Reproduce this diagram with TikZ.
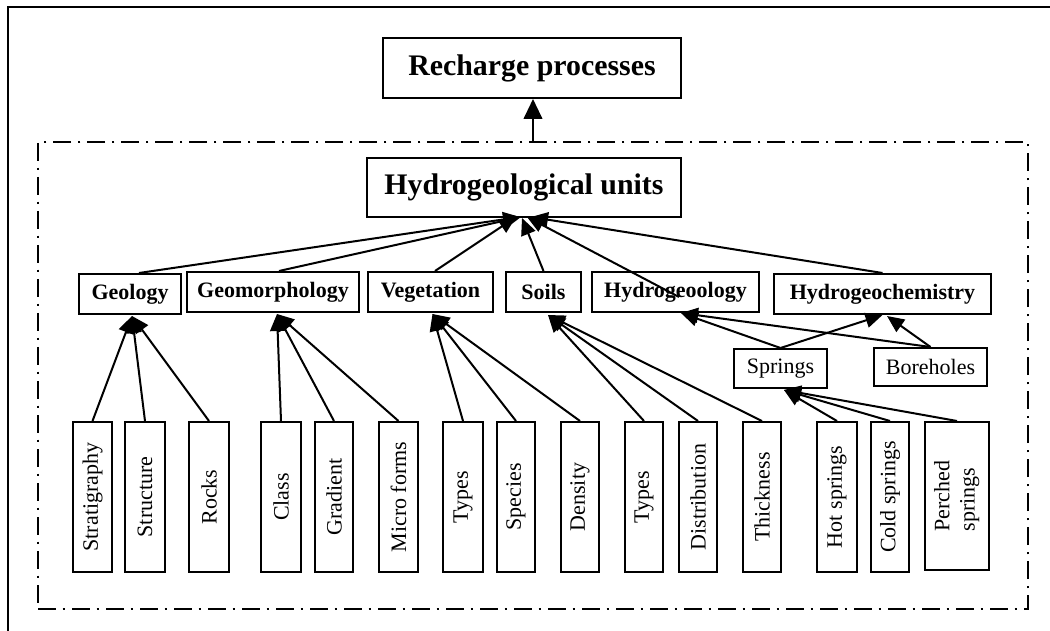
\documentclass[tikz,border=0pt]{standalone}
\usepackage{fontspec}
\setmainfont{Liberation Serif}
\usetikzlibrary{arrows.meta,calc}
\begin{document}
\begin{tikzpicture}[x=0.75pt,y=-0.75pt,
  sz/.style 2 args={minimum width=#1*0.75pt, minimum height=#2*0.75pt},
  box/.style={draw, line width=1.5pt, inner sep=0pt, font=\fontsize{16.5}{19}\selectfont\bfseries},
  bigbox/.style={box, font=\fontsize{22.4}{26}\selectfont\bfseries},
  subbox/.style={box, font=\fontsize{16.5}{19}\selectfont},
  leaf/.style={subbox, minimum width=#1*0.75pt, minimum height=112.5pt},
  link/.style={line width=1.5pt, -{Triangle[length=12.75pt,width=11.25pt]}},
  mainlink/.style={line width=1.5pt, -{Triangle[length=15pt,width=14pt]}},
  grouping/.style={draw, line width=1.5pt, dash pattern=on 13.5pt off 5pt on 2pt off 5pt, inner sep=0pt},
]
\useasboundingbox (0,0) rectangle (1050,631);
% outer frame
\draw[line width=1.75pt] (8,631) -- (8,7) -- (1050,7);

% top level
\node[bigbox, sz={298}{60}] (rech) at (532,68) {Recharge processes};
\node[grouping, sz={990}{467}] (group) at (533,375.5) {};
\node[bigbox, sz={314}{59}] (hyd) at (524,187.5) {Hydrogeological units};

% factors
\node[box, sz={102}{40}] (geol) at (130,294)   {Geology};
\node[box, sz={172}{40}] (geom) at (273,292)   {Geomorphology};
\node[box, sz={125}{40}] (veg)  at (430.5,292) {Vegetation};
\node[box, sz={75}{40}]  (soil) at (543.5,292) {Soils};
\node[box, sz={167}{40}] (hgl)  at (675.5,292) {Hydrogeoology};
\node[box, sz={217}{40}] (hgc)  at (882.5,294) {Hydrogeochemistry};

\node[subbox, sz={93}{39}]  (spr) at (780.5,368.5) {Springs};
\node[subbox, sz={113}{38}] (bor) at (930.5,367)   {Boreholes};

% attributes
\node[leaf=39] (strat)  at (92.5,497) {\rotatebox{90}{Stratigraphy}};
\node[leaf=40] (struc)  at (145,497)  {\rotatebox{90}{Structure}};
\node[leaf=40] (rocks)  at (209,497)  {\rotatebox{90}{Rocks}};
\node[leaf=40] (class)  at (281,497)  {\rotatebox{90}{Class}};
\node[leaf=38] (grad)   at (334,497)  {\rotatebox{90}{Gradient}};
\node[leaf=39] (micro)  at (398.5,497){\rotatebox{90}{Micro forms}};
\node[leaf=40] (vtypes) at (463,497)  {\rotatebox{90}{Types}};
\node[leaf=38] (spec)   at (516,497)  {\rotatebox{90}{Species}};
\node[leaf=38] (dens)   at (580,497)  {\rotatebox{90}{Density}};
\node[leaf=38] (stypes) at (644,497)  {\rotatebox{90}{Types}};
\node[leaf=38] (distr)  at (698,497)  {\rotatebox{90}{Distribution}};
\node[leaf=38] (thick)  at (762,497)  {\rotatebox{90}{Thickness}};
\node[leaf=40] (hot)    at (837,497)  {\rotatebox{90}{Hot springs}};
\node[leaf=38] (cold)   at (890,497)  {\rotatebox{90}{Cold springs}};
\node[subbox, sz={64}{148}] (perch) at (957,496)
  {\rotatebox{90}{\begin{tabular}{@{}l@{}}Perched\\springs\end{tabular}}};

% group to recharge
\draw[mainlink] (group.north) -- (group.north |- rech.south);

% factors to hydrogeological units
\draw[link] ($(geol.north)+(9,0)$)   -- ($(hyd.south)+(-4,-1)$);
\draw[link] ($(geom.north)+(6,0)$)   -- ($(hyd.south)+(-3,-1)$);
\draw[link] ($(veg.north)+(4.5,0)$)  -- ($(hyd.south)+(-8,-1)$);
\draw[link] (soil.north)             -- ($(hyd.south)+(-2,0)$);
\draw[link] ($(hgl.center)+(3.5,5)$) -- ($(hyd.south)+(3,-1)$);
\draw[link] (hgc.north)              -- ($(hyd.south)+(7,-1)$);

% springs and boreholes
\draw[link] (spr.north) -- ($(hgl.south)+(5.5,0)$);
\draw[link] (bor.north) -- ($(hgl.south)+(5.5,0)$);
\draw[link] (spr.north) -- (hgc.south);
\draw[link] (bor.north) -- ($(hgc.south)+(4.5,1)$);

% attributes to factors
\draw[link] (strat.north) -- ($(geol.south)+(2,1)$);
\draw[link] (struc.north) -- ($(geol.south)+(2,1)$);
\draw[link] (rocks.north) -- ($(geol.south)+(2,1)$);
\draw[link] (class.north) -- ($(geom.south)+(4,1)$);
\draw[link] (grad.north)  -- ($(geom.south)+(4,1)$);
\draw[link] (micro.north) -- ($(geom.south)+(4,1)$);
\draw[link] (vtypes.north) -- ($(veg.south)+(2,1)$);
\draw[link] (spec.north)   -- ($(veg.south)+(2,1)$);
\draw[link] (dens.north)   -- ($(veg.south)+(2,1)$);
\draw[link] (stypes.north) -- ($(soil.south)+(4.5,2)$);
\draw[link] (distr.north)  -- ($(soil.south)+(4.5,2)$);
\draw[link] (thick.north)  -- ($(soil.south)+(4.5,2)$);
\draw[link] (hot.north)    -- ($(spr.south)+(3.5,1)$);
\draw[link] (cold.north)   -- ($(spr.south)+(3.5,1)$);
\draw[link] (perch.north)  -- ($(spr.south)+(3.5,1)$);
\end{tikzpicture}
\end{document}
